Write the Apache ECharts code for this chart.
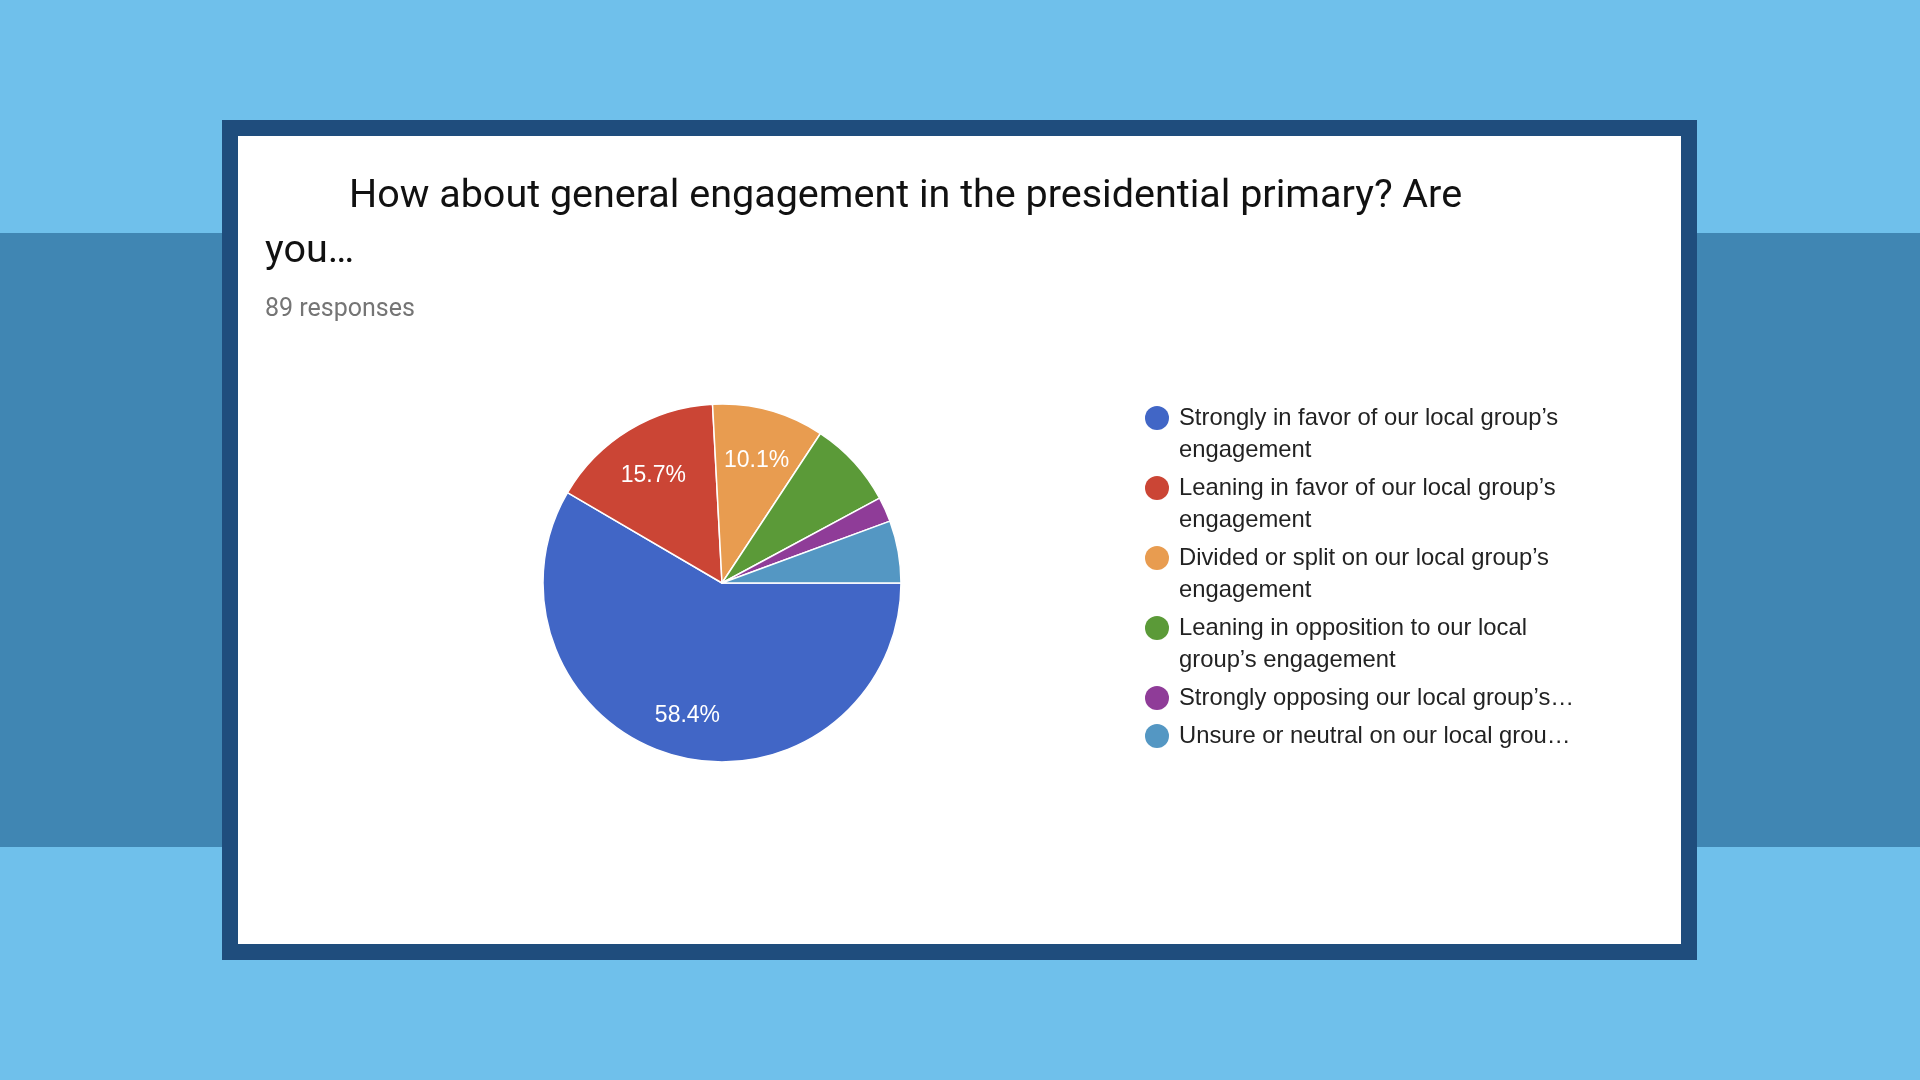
<!DOCTYPE html>
<html>
<head>
<meta charset="utf-8">
<title>Presidential primary engagement</title>
<script src="https://cdn.jsdelivr.net/npm/echarts@6/dist/echarts.min.js"></script>
<style>
  html, body { margin: 0; padding: 0; background: #6fc0eb; }
  #chart { width: 1920px; height: 1080px; }
</style>
</head>
<body>
<div id="chart"></div>
<script>
// survey answers, in the order the form lists them
const categories = [
  "Strongly in favor of our local group’s engagement",
  "Leaning in favor of our local group’s engagement",
  "Divided or split on our local group’s engagement",
  "Leaning in opposition to our local group’s engagement",
  "Strongly opposing our local group’s engagement",
  "Unsure or neutral on our local group’s engagement",
];
// counts out of 89 responses
const responses = [52, 14, 9, 7, 2, 5];
// legend text as the form wraps / truncates it
const legendLabels = [
  "Strongly in favor of our local group’s\nengagement",
  "Leaning in favor of our local group’s\nengagement",
  "Divided or split on our local group’s\nengagement",
  "Leaning in opposition to our local\ngroup’s engagement",
  "Strongly opposing our local group’s…",
  "Unsure or neutral on our local grou…",
];
const totalLabel = "89 responses";

const sliceColors = ["#4166c6", "#cb4535", "#e89c50", "#5b9a38", "#8f3c98", "#5497c3"];

// circle sitting on the first of two text lines (24 x 56 box)
const twoLineIcon = "path://M0,12A12,12 0 1,1 24,12A12,12 0 1,1 0,12Z M0,56L0,56";

const chart = echarts.init(document.getElementById("chart"));

const pieData = categories.map((name, i) => ({ name, value: responses[i] }));

const option = {
  animation: false,
  color: sliceColors,
  graphic: [
    { type: "rect", shape: { x: 0, y: 233, width: 1920, height: 614 }, style: { fill: "#4086b3" }, z: -10 },
    { type: "rect", shape: { x: 222, y: 120, width: 1475, height: 840 }, style: { fill: "#1f4d7d" }, z: -9 },
    { type: "rect", shape: { x: 238, y: 136, width: 1443, height: 808 }, style: { fill: "#ffffff" }, z: -8 },
  ],
  title: [
    {
      left: 265,
      top: 170,
      padding: 0,
      text: "{i|\u00a0}{t|How about general engagement in the presidential primary? Are}\n{t|you…}",
      textStyle: {
        lineHeight: 55,
        rich: {
          i: { width: 84, fontSize: 39.5, lineHeight: 55 },
          t: { fontFamily: "Roboto", fontSize: 39.5, lineHeight: 55, color: "#111111", fontWeight: "normal" },
        },
      },
    },
    {
      left: 265,
      top: 295,
      padding: 0,
      text: totalLabel,
      textStyle: { fontFamily: "Roboto", fontSize: 25, lineHeight: 30, color: "#757575", fontWeight: "normal" },
    },
  ],
  legend: {
    orient: "vertical",
    left: 1145,
    top: 402,
    padding: 0,
    itemWidth: 24,
    itemHeight: 56,
    itemGap: 6,
    selectedMode: false,
    itemStyle: { borderWidth: 0 },
    data: categories.map((name, i) => ({
      name,
      icon: legendLabels[i].indexOf("\n") >= 0 ? twoLineIcon : "circle",
    })),
    formatter: (name) => legendLabels[categories.indexOf(name)],
    textStyle: {
      fontFamily: "Liberation Sans, Arial, sans-serif",
      fontSize: 23.8,
      lineHeight: 32,
      color: "#222222",
      padding: [0, 0, 0, 5],
    },
  },
  series: [
    {
      name: "Engagement",
      type: "pie",
      center: [722, 583],
      radius: 179,
      startAngle: 0,
      clockwise: true,
      data: pieData,
      label: { show: false },
      labelLine: { show: false },
      itemStyle: { borderColor: "#ffffff", borderWidth: 1.5 },
      emphasis: { scale: false },
    },
    {
      // transparent ring only used to place the percentage labels
      name: "Labels",
      type: "pie",
      center: [722, 583],
      radius: [79, 179],
      startAngle: 0,
      clockwise: true,
      silent: true,
      legendHoverLink: false,
      data: pieData,
      itemStyle: { color: "transparent", borderWidth: 0 },
      labelLine: { show: false },
      avoidLabelOverlap: false,
      label: {
        show: true,
        position: "inside",
        offset: [0, 5],
        fontFamily: "Liberation Sans, Arial, sans-serif",
        fontSize: 23,
        color: "#ffffff",
        formatter: (p) => (p.percent >= 10 ? p.percent.toFixed(1) + "%" : ""),
      },
      emphasis: { disabled: true },
    },
  ],
};

chart.setOption(option);
</script>
</body>
</html>
